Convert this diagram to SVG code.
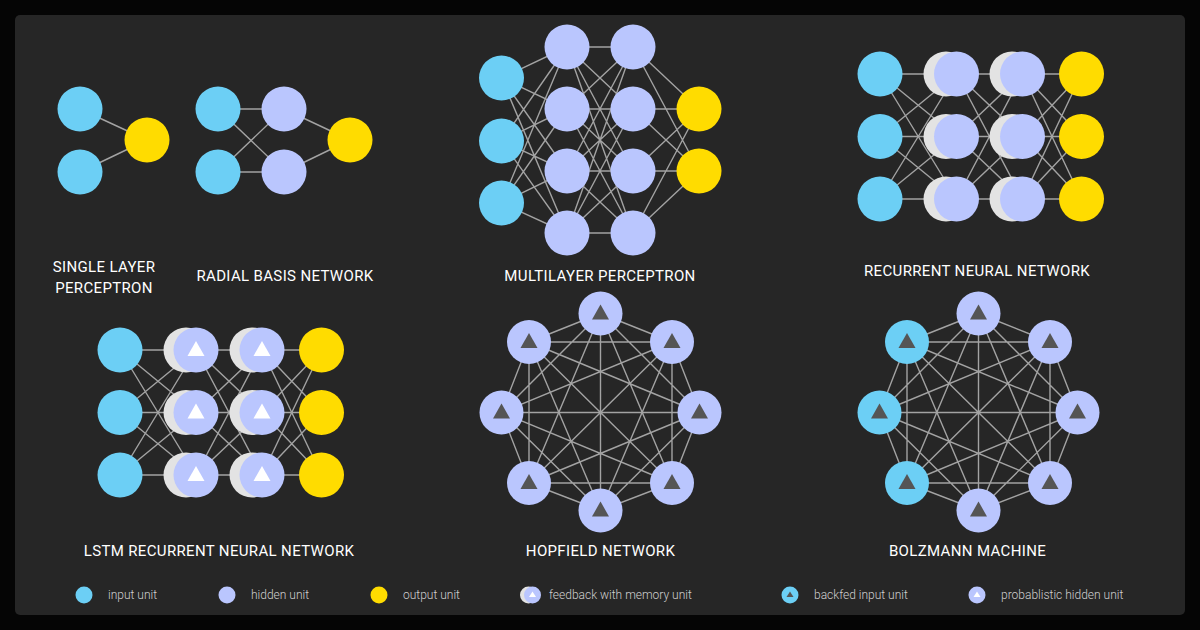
<svg xmlns="http://www.w3.org/2000/svg" xmlns:xlink="http://www.w3.org/1999/xlink" width="1200" height="630" viewBox="0 0 1200 630">
<style>
.in{fill:#6ccff5}
.hid{fill:#bac6fe}
.out{fill:#ffdc00}
.mem{fill:#e3e3e3}
.edge{stroke:#a3a3a3;stroke-width:1.4;fill:none}
.trid{fill:#555555}
.triw{fill:#ffffff}
.title{font-family:Roboto,"Liberation Sans",sans-serif;font-weight:400;font-size:15px;letter-spacing:0.35px;fill:#ffffff;text-anchor:middle}
.leg{font-family:Roboto,"Liberation Sans",sans-serif;font-weight:300;font-size:12px;fill:#d0d0d0}
</style>
<defs>
<path id="tri" d="M0 -9 L8.5 6 L-8.5 6 Z"/>
<path id="tris" d="M0 -3.5 L3.5 2 L-3.5 2 Z"/>
<path id="ring" d="M600.5 313.5 L672 342 M600.5 313.5 L699.5 412.5 M600.5 313.5 L672 483 M600.5 313.5 L600.5 510.5 M600.5 313.5 L529 483 M600.5 313.5 L501.5 412.5 M600.5 313.5 L529 342 M672 342 L699.5 412.5 M672 342 L672 483 M672 342 L600.5 510.5 M672 342 L529 483 M672 342 L501.5 412.5 M672 342 L529 342 M699.5 412.5 L672 483 M699.5 412.5 L600.5 510.5 M699.5 412.5 L529 483 M699.5 412.5 L501.5 412.5 M699.5 412.5 L529 342 M672 483 L600.5 510.5 M672 483 L529 483 M672 483 L501.5 412.5 M672 483 L529 342 M600.5 510.5 L529 483 M600.5 510.5 L501.5 412.5 M600.5 510.5 L529 342 M529 483 L501.5 412.5 M529 483 L529 342 M501.5 412.5 L529 342"/>
</defs>
<rect width="1200" height="630" fill="#050505"/>
<rect x="15" y="15" width="1170" height="600" rx="5" fill="#262626"/>

<g id="connectors" class="edge">
<path d="M80 109 L147 140 M80 172 L147 140"/>
<path d="M218 109 L284 109 M218 109 L284 172 M218 172 L284 109 M218 172 L284 172 M284 109 L350 140 M284 172 L350 140"/>
<path d="M501.5 78 L567 47 M501.5 78 L567 109 M501.5 78 L567 171 M501.5 78 L567 233 M501.5 141 L567 47 M501.5 141 L567 109 M501.5 141 L567 171 M501.5 141 L567 233 M501.5 203 L567 47 M501.5 203 L567 109 M501.5 203 L567 171 M501.5 203 L567 233 M567 47 L633 47 M567 47 L633 109 M567 47 L633 171 M567 47 L633 233 M567 109 L633 47 M567 109 L633 109 M567 109 L633 171 M567 109 L633 233 M567 171 L633 47 M567 171 L633 109 M567 171 L633 171 M567 171 L633 233 M567 233 L633 47 M567 233 L633 109 M567 233 L633 171 M567 233 L633 233 M633 47 L699 109 M633 47 L699 171 M633 109 L699 109 M633 109 L699 171 M633 171 L699 109 M633 171 L699 171 M633 233 L699 109 M633 233 L699 171"/>
<path d="M880 74 L956.5 74 M880 74 L956.5 136.5 M880 74 L956.5 199 M880 136.5 L956.5 74 M880 136.5 L956.5 136.5 M880 136.5 L956.5 199 M880 199 L956.5 74 M880 199 L956.5 136.5 M880 199 L956.5 199 M956.5 74 L1022.5 74 M956.5 74 L1022.5 136.5 M956.5 74 L1022.5 199 M956.5 136.5 L1022.5 74 M956.5 136.5 L1022.5 136.5 M956.5 136.5 L1022.5 199 M956.5 199 L1022.5 74 M956.5 199 L1022.5 136.5 M956.5 199 L1022.5 199 M1022.5 74 L1081.5 74 M1022.5 74 L1081.5 136.5 M1022.5 74 L1081.5 199 M1022.5 136.5 L1081.5 74 M1022.5 136.5 L1081.5 136.5 M1022.5 136.5 L1081.5 199 M1022.5 199 L1081.5 74 M1022.5 199 L1081.5 136.5 M1022.5 199 L1081.5 199"/>
<path d="M120 350 L196 350 M120 350 L196 412.5 M120 350 L196 475 M120 412.5 L196 350 M120 412.5 L196 412.5 M120 412.5 L196 475 M120 475 L196 350 M120 475 L196 412.5 M120 475 L196 475 M196 350 L262 350 M196 350 L262 412.5 M196 350 L262 475 M196 412.5 L262 350 M196 412.5 L262 412.5 M196 412.5 L262 475 M196 475 L262 350 M196 475 L262 412.5 M196 475 L262 475 M262 350 L321.5 350 M262 350 L321.5 412.5 M262 350 L321.5 475 M262 412.5 L321.5 350 M262 412.5 L321.5 412.5 M262 412.5 L321.5 475 M262 475 L321.5 350 M262 475 L321.5 412.5 M262 475 L321.5 475"/>
<use xlink:href="#ring"/>
<use xlink:href="#ring" transform="translate(378,0)"/>
</g>

<g id="single-layer-perceptron">
<circle class="in" cx="80" cy="109" r="22.5"/>
<circle class="in" cx="80" cy="172" r="22.5"/>
<circle class="out" cx="147" cy="140" r="22.5"/>
<text class="title" x="104" y="272">SINGLE LAYER</text>
<text class="title" x="104" y="293">PERCEPTRON</text>
</g>

<g id="radial-basis-network">
<circle class="in" cx="218" cy="109" r="22.5"/>
<circle class="in" cx="218" cy="172" r="22.5"/>
<circle class="hid" cx="284" cy="109" r="22.5"/>
<circle class="hid" cx="284" cy="172" r="22.5"/>
<circle class="out" cx="350" cy="140" r="22.5"/>
<text class="title" x="285" y="280.5">RADIAL BASIS NETWORK</text>
</g>

<g id="multilayer-perceptron">
<circle class="in" cx="501.5" cy="78" r="22.5"/>
<circle class="in" cx="501.5" cy="141" r="22.5"/>
<circle class="in" cx="501.5" cy="203" r="22.5"/>
<circle class="hid" cx="567" cy="47" r="22.5"/>
<circle class="hid" cx="567" cy="109" r="22.5"/>
<circle class="hid" cx="567" cy="171" r="22.5"/>
<circle class="hid" cx="567" cy="233" r="22.5"/>
<circle class="hid" cx="633" cy="47" r="22.5"/>
<circle class="hid" cx="633" cy="109" r="22.5"/>
<circle class="hid" cx="633" cy="171" r="22.5"/>
<circle class="hid" cx="633" cy="233" r="22.5"/>
<circle class="out" cx="699" cy="109" r="22.5"/>
<circle class="out" cx="699" cy="171" r="22.5"/>
<text class="title" x="600" y="280.5">MULTILAYER PERCEPTRON</text>
</g>

<g id="recurrent-neural-network">
<circle class="in" cx="880" cy="74" r="22.5"/>
<circle class="in" cx="880" cy="136.5" r="22.5"/>
<circle class="in" cx="880" cy="199" r="22.5"/>
<circle class="mem" cx="946" cy="74" r="22.5"/>
<circle class="hid" cx="956.5" cy="74" r="22.5"/>
<circle class="mem" cx="946" cy="136.5" r="22.5"/>
<circle class="hid" cx="956.5" cy="136.5" r="22.5"/>
<circle class="mem" cx="946" cy="199" r="22.5"/>
<circle class="hid" cx="956.5" cy="199" r="22.5"/>
<circle class="mem" cx="1012" cy="74" r="22.5"/>
<circle class="hid" cx="1022.5" cy="74" r="22.5"/>
<circle class="mem" cx="1012" cy="136.5" r="22.5"/>
<circle class="hid" cx="1022.5" cy="136.5" r="22.5"/>
<circle class="mem" cx="1012" cy="199" r="22.5"/>
<circle class="hid" cx="1022.5" cy="199" r="22.5"/>
<circle class="out" cx="1081.5" cy="74" r="22.5"/>
<circle class="out" cx="1081.5" cy="136.5" r="22.5"/>
<circle class="out" cx="1081.5" cy="199" r="22.5"/>
<text class="title" x="977" y="276">RECURRENT NEURAL NETWORK</text>
</g>

<g id="lstm-recurrent-neural-network">
<circle class="in" cx="120" cy="350" r="22.5"/>
<circle class="in" cx="120" cy="412.5" r="22.5"/>
<circle class="in" cx="120" cy="475" r="22.5"/>
<circle class="mem" cx="186" cy="350" r="22.5"/>
<circle class="hid" cx="196" cy="350" r="22.5"/>
<circle class="mem" cx="186" cy="412.5" r="22.5"/>
<circle class="hid" cx="196" cy="412.5" r="22.5"/>
<circle class="mem" cx="186" cy="475" r="22.5"/>
<circle class="hid" cx="196" cy="475" r="22.5"/>
<circle class="mem" cx="252" cy="350" r="22.5"/>
<circle class="hid" cx="262" cy="350" r="22.5"/>
<circle class="mem" cx="252" cy="412.5" r="22.5"/>
<circle class="hid" cx="262" cy="412.5" r="22.5"/>
<circle class="mem" cx="252" cy="475" r="22.5"/>
<circle class="hid" cx="262" cy="475" r="22.5"/>
<use xlink:href="#tri" class="triw" x="196" y="350"/>
<use xlink:href="#tri" class="triw" x="196" y="412.5"/>
<use xlink:href="#tri" class="triw" x="196" y="475"/>
<use xlink:href="#tri" class="triw" x="262" y="350"/>
<use xlink:href="#tri" class="triw" x="262" y="412.5"/>
<use xlink:href="#tri" class="triw" x="262" y="475"/>
<circle class="out" cx="321.5" cy="350" r="22.5"/>
<circle class="out" cx="321.5" cy="412.5" r="22.5"/>
<circle class="out" cx="321.5" cy="475" r="22.5"/>
<text class="title" x="219" y="556">LSTM RECURRENT NEURAL NETWORK</text>
</g>

<g id="hopfield-network">
<circle class="hid" cx="600.5" cy="313.5" r="22"/>
<circle class="hid" cx="672" cy="342" r="22"/>
<circle class="hid" cx="699.5" cy="412.5" r="22"/>
<circle class="hid" cx="672" cy="483" r="22"/>
<circle class="hid" cx="600.5" cy="510.5" r="22"/>
<circle class="hid" cx="529" cy="483" r="22"/>
<circle class="hid" cx="501.5" cy="412.5" r="22"/>
<circle class="hid" cx="529" cy="342" r="22"/>
<use xlink:href="#tri" class="trid" x="600.5" y="313.5"/>
<use xlink:href="#tri" class="trid" x="672" y="342"/>
<use xlink:href="#tri" class="trid" x="699.5" y="412.5"/>
<use xlink:href="#tri" class="trid" x="672" y="483"/>
<use xlink:href="#tri" class="trid" x="600.5" y="510.5"/>
<use xlink:href="#tri" class="trid" x="529" y="483"/>
<use xlink:href="#tri" class="trid" x="501.5" y="412.5"/>
<use xlink:href="#tri" class="trid" x="529" y="342"/>
<text class="title" x="600.5" y="556">HOPFIELD NETWORK</text>
</g>

<g id="bolzmann-machine">
<circle class="hid" cx="978.5" cy="313.5" r="22"/>
<circle class="hid" cx="1050" cy="342" r="22"/>
<circle class="hid" cx="1077.5" cy="412.5" r="22"/>
<circle class="hid" cx="1050" cy="483" r="22"/>
<circle class="hid" cx="978.5" cy="510.5" r="22"/>
<circle class="in" cx="907" cy="483" r="22"/>
<circle class="in" cx="879.5" cy="412.5" r="22"/>
<circle class="in" cx="907" cy="342" r="22"/>
<use xlink:href="#tri" class="trid" x="978.5" y="313.5"/>
<use xlink:href="#tri" class="trid" x="1050" y="342"/>
<use xlink:href="#tri" class="trid" x="1077.5" y="412.5"/>
<use xlink:href="#tri" class="trid" x="1050" y="483"/>
<use xlink:href="#tri" class="trid" x="978.5" y="510.5"/>
<use xlink:href="#tri" class="trid" x="907" y="483"/>
<use xlink:href="#tri" class="trid" x="879.5" y="412.5"/>
<use xlink:href="#tri" class="trid" x="907" y="342"/>
<text class="title" x="967.5" y="556">BOLZMANN MACHINE</text>
</g>

<g id="legend">
<g id="legend-input">
<circle class="in" cx="84" cy="595" r="8.5"/>
<text class="leg" x="108" y="599">input unit</text>
</g>
<g id="legend-hidden">
<circle class="hid" cx="227" cy="595" r="8.5"/>
<text class="leg" x="251" y="599">hidden unit</text>
</g>
<g id="legend-output">
<circle class="out" cx="379" cy="595" r="8.5"/>
<text class="leg" x="403" y="599">output unit</text>
</g>
<g id="legend-feedback">
<circle class="mem" cx="528.5" cy="595" r="8.5"/>
<circle class="hid" cx="532.5" cy="595" r="8.5"/>
<use xlink:href="#tris" class="triw" x="532.5" y="595"/>
<text class="leg" x="549" y="599">feedback with memory unit</text>
</g>
<g id="legend-backfed">
<circle class="in" cx="790" cy="595" r="8.5"/>
<use xlink:href="#tris" class="trid" x="790" y="595"/>
<text class="leg" x="814" y="599">backfed input unit</text>
</g>
<g id="legend-probabilistic">
<circle class="hid" cx="977" cy="595" r="8.5"/>
<use xlink:href="#tris" class="triw" x="977" y="595"/>
<text class="leg" x="1001" y="599">probablistic hidden unit</text>
</g>
</g>
</svg>
